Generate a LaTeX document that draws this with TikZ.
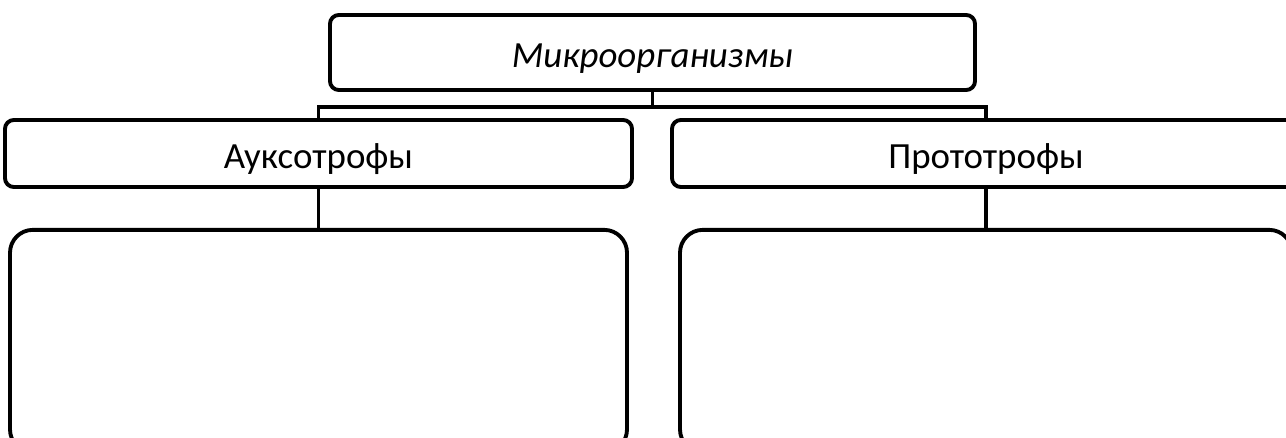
\documentclass[tikz,border=0pt]{standalone}
\usepackage{fontspec}
\setmainfont{Carlito}
\usepackage{tikz}
\usetikzlibrary{positioning, calc}

\tikzset{
    headbox/.style={draw=black, fill=white, rounded corners=5pt, line width=2.2pt, font=\fontsize{21}{24}\selectfont, inner sep=0pt, text height=0.62cm, text depth=0pt},
    listbox/.style={draw=black, fill=white, rounded corners=13pt, line width=2.2pt, inner sep=0pt},
    link/.style={draw=black, line width=1.8pt}
}

\begin{document}
\begin{tikzpicture}
    \clip (0,0) rectangle (25.72,-8.76);
    \fill[white] (0,0) rectangle (25.72,-8.76);

    \node[headbox, minimum width=12.9cm, minimum height=1.5cm] (micro) at (13.05,-1.05) {\itshape Микроорганизмы};

    \node[headbox, minimum width=12.54cm, minimum height=1.34cm] (auxo) at (6.37,-3.07) {Ауксотрофы};
    \node[headbox, minimum width=12.56cm, minimum height=1.34cm] (proto) at (19.72,-3.07) {Прототрофы};

    \node[listbox, minimum width=12.34cm, minimum height=4.45cm, below=0.78cm of auxo] (auxo-list) {};
    \node[listbox, minimum width=12.24cm, minimum height=4.45cm, below=0.78cm of proto] (proto-list) {};

    % connectors
    \draw[link] (micro.south) -- ++(0,-0.3) coordinate (fork);
    \draw[link] (auxo.north) |- (fork) -| (proto.north);
    \draw[link] (auxo.south) -- (auxo-list.north);
    \draw[link] (proto.south) -- (proto-list.north);
\end{tikzpicture}
\end{document}
